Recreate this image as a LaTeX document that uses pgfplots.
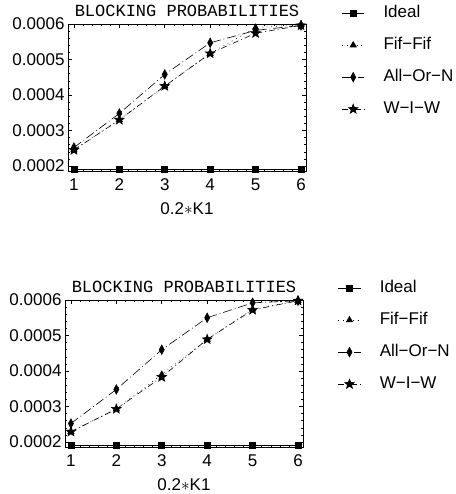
\documentclass[border=0pt]{standalone}
\usepackage{fontspec}
\setmainfont{Liberation Sans}
\newfontfamily\courfont{Liberation Mono}
\usepackage{pgfplots}
\pgfplotsset{compat=1.18}

\pgfdeclareplotmark{fstar}{%
  \pgfpathmoveto{\pgfpointpolar{90}{\pgfplotmarksize}}%
  \pgfpathlineto{\pgfpointpolar{126}{0.42\pgfplotmarksize}}%
  \pgfpathlineto{\pgfpointpolar{162}{\pgfplotmarksize}}%
  \pgfpathlineto{\pgfpointpolar{198}{0.42\pgfplotmarksize}}%
  \pgfpathlineto{\pgfpointpolar{234}{\pgfplotmarksize}}%
  \pgfpathlineto{\pgfpointpolar{270}{0.42\pgfplotmarksize}}%
  \pgfpathlineto{\pgfpointpolar{306}{\pgfplotmarksize}}%
  \pgfpathlineto{\pgfpointpolar{342}{0.42\pgfplotmarksize}}%
  \pgfpathlineto{\pgfpointpolar{18}{\pgfplotmarksize}}%
  \pgfpathlineto{\pgfpointpolar{54}{0.42\pgfplotmarksize}}%
  \pgfpathclose
  \pgfusepathqfillstroke}

\pgfplotsset{
  bp/.style={
    scale only axis, width=238pt, height=147pt,
    xmin=0.87, xmax=6.11, ymin=0.000186, ymax=0.0006,
    xtick={1,2,3,4,5,6},
    ytick={0.0002,0.0003,0.0004,0.0005,0.0006},
    yticklabels={0.0002,0.0003,0.0004,0.0005,0.0006},
    scaled y ticks=false,
    minor x tick num=4, minor y tick num=4,
    tick align=inside, major tick length=4pt, minor tick length=2pt,
    axis line style={line width=0.8pt},
    tick style={black, line width=0.5pt},
    /pgf/number format/assume math mode=true,
    ticklabel style={font=\fontsize{17}{20}\selectfont},
    xticklabel style={yshift=-4pt},
    xlabel={0.2$\ast$K1},
    xlabel style={font=\fontsize{17}{20}\selectfont, yshift=-5pt},
    title={BLOCKING PROBABILITIES},
    title style={font=\courfont\fontsize{17}{20}\selectfont, at={(0.5,1)}, anchor=base, inner sep=0pt, yshift=1pt},
    clip=false,
    legend cell align=left,
    legend image code/.code={\draw[mark repeat=2,mark phase=2,#1] plot coordinates {(0pt,0pt) (11pt,0pt) (22pt,0pt)};},
    legend style={draw=none, fill=none, inner sep=0pt, anchor=north west,
      font=\fontsize{17}{20}\selectfont, row sep=17pt,
      nodes={inner sep=0pt, text height=12pt, text depth=3pt},
      /tikz/every odd column/.append style={column sep=19pt}},
  },
  ideal/.style={black, line width=0.6pt, mark=square*, mark size=3pt, mark options={solid}},
  fif/.style={black, line width=0.6pt, dash pattern=on 0.8pt off 4pt, mark=triangle*, mark size=3.6pt, mark options={solid}},
  aon/.style={black, line width=0.6pt, dash pattern=on 9pt off 3pt on 0.8pt off 3pt, mark=diamond*, mark size=3.4pt, mark options={solid, yscale=1.4}},
  wiw/.style={black, line width=0.6pt, dash pattern=on 6pt off 3pt on 0.8pt off 3pt, mark=fstar, mark size=5pt, mark options={solid}},
}

\begin{document}
\begin{tikzpicture}
\useasboundingbox (0,0) rectangle (455pt,494pt);

% upper panel
\begin{axis}[bp, at={(68pt,323pt)}, anchor=south west,
  legend style={at={(1.15,1.126)}}]
\addplot[ideal] coordinates {(1,0.00019)(2,0.00019)(3,0.00019)(4,0.00019)(5,0.00019)(6,0.00019)};
\addplot[fif] coordinates {(1,0.000245)(2,0.000330)(3,0.000425)(4,0.000517)(5,0.000590)(6,0.000598)};
\addplot[aon] coordinates {(1,0.000252)(2,0.000348)(3,0.000458)(4,0.000547)(5,0.000582)(6,0.000596)};
\addplot[wiw] coordinates {(1,0.000245)(2,0.000330)(3,0.000425)(4,0.000517)(5,0.000574)(6,0.000596)};
\legend{Ideal,Fif−Fif,All−Or−N,W−I−W}
\end{axis}

% lower panel
\begin{axis}[bp, at={(65pt,47pt)}, anchor=south west,
  legend style={at={(1.147,1.133)}}]
\addplot[ideal] coordinates {(1,0.00019)(2,0.00019)(3,0.00019)(4,0.00019)(5,0.00019)(6,0.00019)};
\addplot[fif] coordinates {(1,0.000229)(2,0.000293)(3,0.000390)(4,0.000489)(5,0.000574)(6,0.000598)};
\addplot[aon] coordinates {(1,0.000252)(2,0.000348)(3,0.000460)(4,0.000550)(5,0.000592)(6,0.000598)};
\addplot[wiw] coordinates {(1,0.000229)(2,0.000293)(3,0.000383)(4,0.000489)(5,0.000572)(6,0.000598)};
\legend{Ideal,Fif−Fif,All−Or−N,W−I−W}
\end{axis}
\end{tikzpicture}
\end{document}
